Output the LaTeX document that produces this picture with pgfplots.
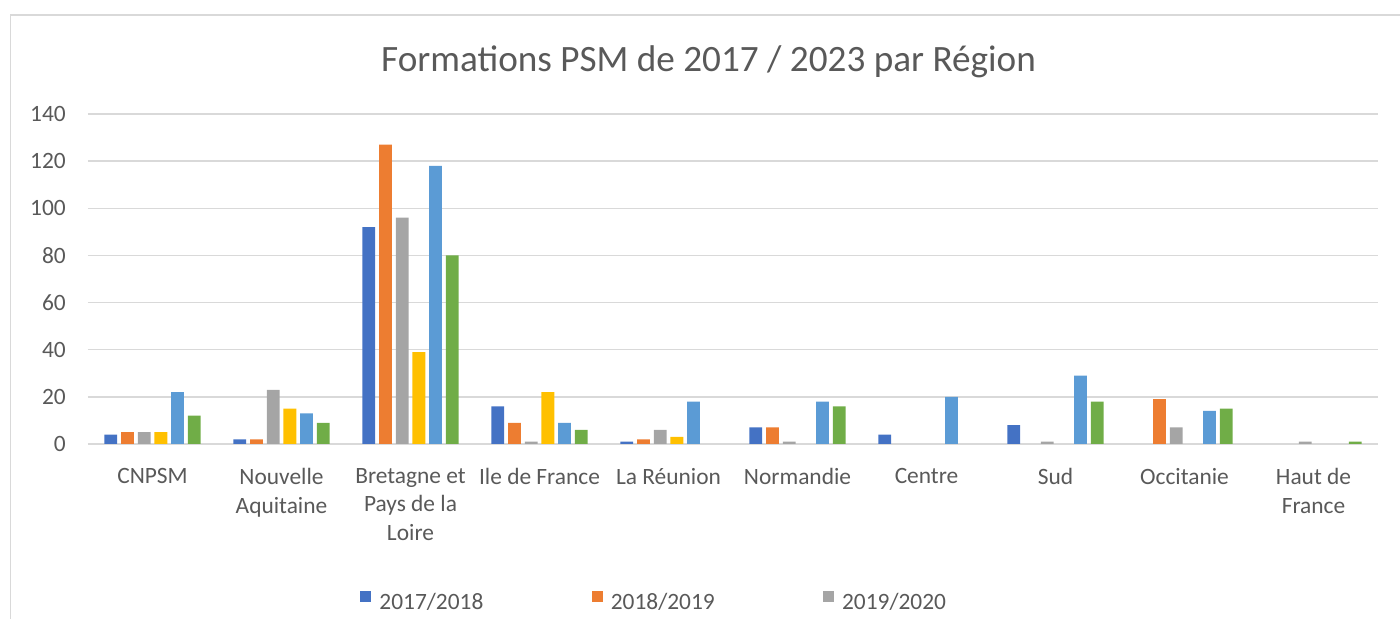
\documentclass[border=0pt]{standalone}
\usepackage{fontspec}
\setmainfont{Carlito}
\usepackage{pgfplots}
\pgfplotsset{compat=1.18}
\definecolor{c1}{HTML}{4472C4}
\definecolor{c2}{HTML}{ED7D31}
\definecolor{c3}{HTML}{A5A5A5}
\definecolor{c4}{HTML}{FFC000}
\definecolor{c5}{HTML}{5B9BD5}
\definecolor{c6}{HTML}{70AD47}
\definecolor{txt}{HTML}{595959}
\definecolor{grd}{HTML}{D9D9D9}
\begin{document}
\begin{tikzpicture}
\path[use as bounding box] (0pt,0pt) rectangle (700pt,309.5pt);
\draw[grd, line width=0.75pt] (5.25pt,0pt) -- (5.25pt,302pt) -- (700pt,302pt);
\node[anchor=base, text=txt, font=\fontsize{18.6pt}{22pt}\selectfont] at (354.25pt,273.5pt) {Formations PSM de 2017 / 2023 par Région};
\begin{axis}[
  at={(44pt,87.5pt)}, anchor=south west, scale only axis,
  width=645pt, height=165pt,
  xmin=-0.5, xmax=9.5, ymin=0, ymax=140,
  ytick={0,20,...,140},
  xtick={0,...,9},
  xticklabels={CNPSM,{Nouvelle\\Aquitaine},{Bretagne et\\Pays de la\\Loire},Ile de France,La Réunion,Normandie,Centre,Sud,Occitanie,{Haut de\\France}},
  ybar=1.95pt, bar width=6.4pt,
  axis line style={draw=none}, major tick length=0pt,
  ymajorgrids, grid style={grd, line width=0.75pt},
  tick label style={text=txt, font=\fontsize{11.7pt}{14.25pt}\selectfont},
  /pgf/number format/assume math mode=true,
  yticklabel style={xshift=-7.6pt},
  xticklabel style={align=center, yshift=-8.6pt},
  legend entries={2017/2018,2018/2019,2019/2020},
  legend columns=3,
  legend style={at={(0.2109,-0.4806)}, anchor=west, draw=none, fill=none, inner sep=0pt,
    font=\fontsize{11.7pt}{14.25pt}\selectfont, text=txt,
    /tikz/every odd column/.append style={column sep=2pt},
    /tikz/every even column/.append style={column sep=52.2pt}},
  legend image code/.code={\fill[#1] (0pt,0.5pt) rectangle (5.5pt,6pt);},
]
\addplot[fill=c1, draw=none] coordinates {(0,4) (1,2) (2,92) (3,16) (4,1) (5,7) (6,4) (7,8)};
\addplot[fill=c2, draw=none] coordinates {(0,5) (1,2) (2,127) (3,9) (4,2) (5,7) (8,19)};
\addplot[fill=c3, draw=none] coordinates {(0,5) (1,23) (2,96) (3,1) (4,6) (5,1) (7,1) (8,7) (9,1)};
\addplot[fill=c4, draw=none] coordinates {(0,5) (1,15) (2,39) (3,22) (4,3)};
\addplot[fill=c5, draw=none] coordinates {(0,22) (1,13) (2,118) (3,9) (4,18) (5,18) (6,20) (7,29) (8,14)};
\addplot[fill=c6, draw=none] coordinates {(0,12) (1,9) (2,80) (3,6) (5,16) (7,18) (8,15) (9,1)};
\end{axis}
\end{tikzpicture}
\end{document}
